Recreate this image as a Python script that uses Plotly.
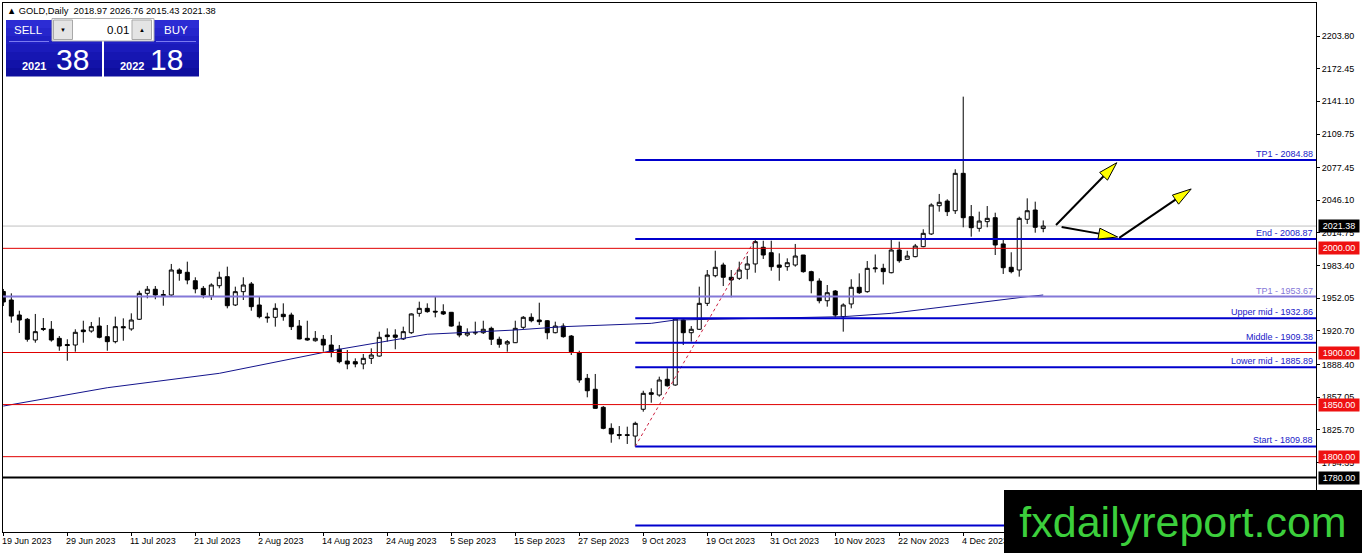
import math
import plotly.graph_objects as go

# ---------------- data ----------------
opens = [1958.6, 1950.4, 1936.0, 1931.9, 1912.0, 1922.1, 1922.3, 1913.6, 1907.7, 1907.2,
         1921.6, 1920.6, 1925.4, 1915.2, 1910.4, 1924.8, 1922.6, 1931.9, 1956.8, 1960.7,
         1955.7, 1955.2, 1979.2, 1977.0, 1968.9, 1961.6, 1954.2, 1964.1, 1972.8, 1945.6,
         1958.4, 1965.8, 1945.6, 1934.1, 1933.8, 1936.7, 1936.0, 1925.4, 1913.6, 1911.3,
         1912.7, 1907.2, 1903.1, 1891.8, 1891.2, 1889.0, 1894.4, 1896.6, 1916.8, 1916.8,
         1913.0, 1919.0, 1937.6, 1942.4, 1939.6, 1939.2, 1938.6, 1925.4, 1916.8, 1918.7,
         1919.0, 1923.2, 1912.7, 1908.2, 1909.4, 1924.2, 1933.8, 1931.2, 1930.5, 1919.0,
         1925.4, 1915.8, 1899.8, 1875.2, 1864.7, 1847.4, 1827.2, 1821.3, 1821.1, 1819.8,
         1845.5, 1861.4, 1859.2, 1874.3, 1868.8, 1931.2, 1919.0, 1922.3, 1947.2, 1973.7,
         1984.0, 1972.2, 1971.2, 1979.9, 1985.0, 2001.0, 1995.8, 1984.0, 1982.4, 1984.0,
         1993.6, 1977.6, 1968.6, 1949.7, 1959.0, 1934.4, 1946.6, 1962.6, 1958.4, 1980.4,
         1980.8, 1976.6, 1998.4, 1989.5, 1992.0, 2001.6, 2013.8, 2040.9, 2045.4, 2036.1,
         2072.0, 2030.4, 2019.2, 2025.6, 2029.4, 2004.2, 1981.8, 1979.2, 2027.9, 2036.8,
         2018.97]
highs = [1961.0, 1956.8, 1940.1, 1933.1, 1937.0, 1933.1, 1930.2, 1915.8, 1912.7, 1922.3,
         1930.5, 1929.3, 1933.8, 1926.4, 1934.4, 1932.8, 1937.6, 1959.3, 1963.8, 1963.8,
         1960.0, 1985.0, 1980.8, 1987.2, 1972.2, 1963.8, 1966.4, 1977.6, 1982.4, 1963.2,
         1972.2, 1967.7, 1953.6, 1938.2, 1947.2, 1947.2, 1938.2, 1931.2, 1930.5, 1920.6,
         1916.8, 1916.8, 1907.2, 1902.4, 1894.4, 1898.6, 1904.0, 1920.0, 1923.2, 1922.3,
         1924.8, 1937.6, 1948.8, 1947.2, 1953.6, 1946.3, 1938.9, 1929.6, 1923.2, 1929.6,
         1930.5, 1924.8, 1915.2, 1912.0, 1930.5, 1935.0, 1937.6, 1947.8, 1931.2, 1929.6,
         1928.0, 1916.8, 1901.7, 1879.4, 1879.4, 1848.6, 1832.0, 1829.4, 1828.8, 1833.6,
         1863.3, 1865.6, 1876.8, 1884.8, 1932.8, 1931.9, 1925.4, 1963.2, 1979.2, 1997.7,
         1986.2, 1979.2, 1987.2, 1992.6, 2008.87, 2007.3, 2007.3, 1995.2, 1990.4, 2004.2,
         1993.6, 1978.5, 1971.2, 1964.8, 1960.0, 1947.2, 1970.3, 1976.0, 1987.8, 1994.1,
         1985.2, 2008.0, 2006.4, 1997.7, 2004.2, 2018.3, 2043.2, 2052.2, 2047.1, 2075.9,
         2145.6, 2041.6, 2035.2, 2040.6, 2034.2, 2008.0, 1996.2, 2030.4, 2048.0, 2044.8,
         2026.76]
lows = [1944.6, 1928.6, 1918.7, 1910.4, 1909.4, 1920.6, 1910.4, 1901.7, 1892.1, 1900.8,
        1909.4, 1919.0, 1913.6, 1901.7, 1908.8, 1911.3, 1920.9, 1931.2, 1952.0, 1951.1,
        1944.9, 1954.2, 1968.9, 1965.5, 1956.8, 1952.0, 1950.4, 1961.6, 1942.4, 1944.6,
        1950.4, 1940.1, 1932.8, 1928.6, 1924.8, 1930.5, 1921.6, 1912.7, 1911.3, 1910.4,
        1900.8, 1895.4, 1889.6, 1883.9, 1885.8, 1883.9, 1889.0, 1896.0, 1910.4, 1903.1,
        1912.0, 1917.8, 1934.4, 1938.2, 1933.8, 1936.0, 1924.8, 1914.6, 1915.2, 1916.8,
        1917.8, 1907.2, 1904.6, 1900.8, 1909.1, 1922.3, 1929.0, 1926.4, 1912.7, 1918.4,
        1914.2, 1897.6, 1871.0, 1857.0, 1846.0, 1826.3, 1813.4, 1816.7, 1812.2, 1809.88,
        1843.2, 1851.8, 1857.6, 1867.2, 1868.1, 1907.2, 1910.4, 1921.6, 1944.6, 1972.2,
        1963.8, 1953.0, 1969.6, 1970.3, 1976.6, 1989.8, 1978.5, 1968.9, 1978.5, 1982.4,
        1976.6, 1956.8, 1947.2, 1944.0, 1933.8, 1920.0, 1942.4, 1956.2, 1957.4, 1976.8,
        1965.3, 1976.0, 1986.2, 1988.8, 1991.4, 2001.0, 2012.8, 2035.2, 2031.0, 2033.0,
        2020.2, 2011.2, 2016.0, 2020.2, 1993.6, 1975.4, 1976.0, 1972.8, 2023.4, 2015.0,
        2015.43]
closes = [1948.5, 1935.0, 1931.2, 1912.7, 1920.0, 1923.0, 1912.0, 1906.2, 1906.7, 1919.4,
          1920.0, 1924.8, 1914.6, 1910.4, 1924.8, 1923.8, 1931.2, 1956.8, 1960.7, 1955.2,
          1954.7, 1979.2, 1976.0, 1969.6, 1961.0, 1955.2, 1964.8, 1972.2, 1944.9, 1958.4,
          1964.8, 1944.0, 1934.4, 1933.4, 1942.4, 1934.4, 1924.8, 1913.0, 1912.0, 1913.6,
          1907.2, 1900.8, 1891.2, 1889.0, 1889.0, 1894.4, 1897.6, 1914.6, 1915.2, 1914.6,
          1920.0, 1937.0, 1942.4, 1939.2, 1938.9, 1937.0, 1925.4, 1916.8, 1919.0, 1919.2,
          1922.3, 1912.7, 1907.9, 1910.4, 1923.2, 1933.8, 1930.5, 1929.6, 1919.0, 1925.4,
          1915.2, 1900.8, 1873.6, 1863.3, 1846.4, 1827.2, 1821.8, 1820.5, 1820.5, 1832.0,
          1860.8, 1859.9, 1873.6, 1868.1, 1932.2, 1919.0, 1922.3, 1947.2, 1974.4, 1981.8,
          1972.2, 1969.6, 1979.2, 1985.0, 2006.4, 1993.6, 1982.4, 1981.8, 1986.2, 1992.6,
          1977.6, 1968.9, 1949.7, 1957.4, 1936.0, 1945.6, 1962.6, 1957.4, 1980.8, 1981.1,
          1977.6, 1998.4, 1988.1, 1992.6, 2002.2, 2014.4, 2041.6, 2044.2, 2035.2, 2072.0,
          2029.4, 2019.8, 2026.2, 2028.8, 2003.2, 1981.4, 1977.6, 2028.8, 2036.1, 2020.2,
          2021.38]
bar_index = list(range(len(opens)))

# axis ticks every 8 bars; the label at bar 128 is hidden under the watermark in the reference
date_tick_idx = [0, 8, 16, 24, 32, 40, 48, 56, 64, 72, 80, 88, 96, 104, 112, 120, 128]
date_tick_text = ["19 Jun 2023", "29 Jun 2023", "11 Jul 2023", "21 Jul 2023", "2 Aug 2023",
                  "14 Aug 2023", "24 Aug 2023", "5 Sep 2023", "15 Sep 2023", "27 Sep 2023",
                  "9 Oct 2023", "19 Oct 2023", "31 Oct 2023", "10 Nov 2023", "22 Nov 2023",
                  "4 Dec 2023", ""]

price_tick_vals = [2203.80, 2172.45, 2141.10, 2109.75, 2077.45, 2046.10, 2014.75,
                   1983.40, 1952.05, 1920.70, 1888.40, 1857.05, 1825.70, 1794.35]

ma_idx = [0, 13, 27, 42, 53, 64, 70, 81, 84, 94, 105, 111, 115, 128, 130]
ma_val = [1848.6, 1866.2, 1880.0, 1903.1, 1917.5, 1921.6, 1924.8, 1928.0, 1931.2,
          1932.8, 1934.4, 1937.6, 1941.5, 1953.6, 1955.2]

trend_idx = [79, 94]
trend_val = [1809.88, 2008.87]

fib_start_idx = 79
fib_levels = [2084.88, 2008.87, 1932.86, 1909.38, 1885.89, 1809.88, 1733.87]
fib_labels = ["TP1 - 2084.88", "End - 2008.87", "Upper mid - 1932.86", "Middle - 1909.38",
              "Lower mid - 1885.89", "Start - 1809.88", ""]

tp_level = 1953.67
tp_label = "TP1 - 1953.67"
red_levels = [2000.00, 1900.00, 1850.00, 1800.00]
black_level = 1780.00
bid_level = 2021.38

arrow_x0 = [131.6, 132.3, 139.5]
arrow_y0 = [2022.4, 2020.5, 2010.0]
arrow_x1 = [139.2, 139.3, 148.5]
arrow_y1 = [2082.2, 2010.9, 2057.0]

header_text = "▲ GOLD,Daily  2018.97 2026.76 2015.43 2021.38"
sell_big, sell_small = "2021", "38"
buy_big, buy_small = "2022", "18"
lot_text = "0.01"
watermark = "fxdailyreport.com"

# ---------------- layout geometry ----------------
W, H = 1362, 553
ML, MR, MT, MB = 3, 46, 3, 21
PW = W - ML - MR
PH = H - MT - MB
XR = [-0.04, 164.1]
YR = [1727.7, 2235.5]
FONT = "Liberation Sans"

BLUE = "#0000cd"
LAV = "#8478d8"
RED = "#e00000"


def px_x(px):
    return (px - ML) / PW


def px_y(py):
    return (H - MB - py) / PH


fig = go.Figure()

fig.add_trace(go.Candlestick(
    x=bar_index, open=opens, high=highs, low=lows, close=closes,
    increasing=dict(line=dict(color="black", width=1), fillcolor="white"),
    decreasing=dict(line=dict(color="black", width=1), fillcolor="black"),
    whiskerwidth=0, showlegend=False, hoverinfo="skip"))

fig.add_trace(go.Scatter(x=ma_idx, y=ma_val, mode="lines",
                         line=dict(color="#14148c", width=1),
                         showlegend=False, hoverinfo="skip"))
fig.add_trace(go.Scatter(x=trend_idx, y=trend_val, mode="lines",
                         line=dict(color="#cc2040", width=1, dash="dot"),
                         showlegend=False, hoverinfo="skip"))

shapes = []
annotations = []

# background bid line
shapes.append(dict(type="line", xref="paper", yref="y", x0=0, x1=1, y0=bid_level, y1=bid_level,
                   line=dict(color="#c0c0c0", width=1), layer="below"))

# full width lines
for lv in red_levels:
    shapes.append(dict(type="line", xref="paper", yref="y", x0=0, x1=1, y0=lv, y1=lv,
                       line=dict(color=RED, width=1), layer="above"))
shapes.append(dict(type="line", xref="paper", yref="y", x0=0, x1=1, y0=tp_level, y1=tp_level,
                   line=dict(color=LAV, width=2), layer="above"))
shapes.append(dict(type="line", xref="paper", yref="y", x0=0, x1=1, y0=black_level, y1=black_level,
                   line=dict(color="black", width=2), layer="above"))

# fib lines
for lv in fib_levels:
    shapes.append(dict(type="line", xref="x", yref="y", x0=fib_start_idx, x1=XR[1], y0=lv, y1=lv,
                       line=dict(color=BLUE, width=2), layer="above"))

# arrows (black line + yellow head)
sx = PW / (XR[1] - XR[0])
sy = PH / (YR[1] - YR[0])
HL, HW = 19.0, 5.5
for x0, y0, x1, y1 in zip(arrow_x0, arrow_y0, arrow_x1, arrow_y1):
    dxp = (x1 - x0) * sx
    dyp = (y1 - y0) * sy
    ln = math.hypot(dxp, dyp)
    ux, uy = dxp / ln, dyp / ln
    bx = x1 - HL * ux / sx
    by = y1 - HL * uy / sy
    nx, ny = -uy, ux
    c1x, c1y = bx + HW * nx / sx, by + HW * ny / sy
    c2x, c2y = bx - HW * nx / sx, by - HW * ny / sy
    shapes.append(dict(type="line", xref="x", yref="y", x0=x0, y0=y0, x1=bx, y1=by,
                       line=dict(color="black", width=2), layer="above"))
    shapes.append(dict(type="path", xref="x", yref="y",
                       path=f"M {x1},{y1} L {c1x},{c1y} L {c2x},{c2y} Z",
                       fillcolor="#ffff00", line=dict(color="black", width=1), layer="above"))

# line labels
for lv, lab in zip(fib_levels, fib_labels):
    if lab:
        annotations.append(dict(xref="paper", yref="y", x=1, y=lv, xanchor="right", yanchor="bottom",
                                xshift=-2, yshift=0, text=lab, showarrow=False, borderpad=0,
                                font=dict(family=FONT, size=9, color="#2020c8")))
annotations.append(dict(xref="paper", yref="y", x=1, y=tp_level, xanchor="right", yanchor="bottom",
                        xshift=-2, text=tp_label, showarrow=False, borderpad=0,
                        font=dict(family=FONT, size=9, color=LAV)))

# price tags on the axis
tags = [(bid_level, "#000000")] + [(lv, "#ee1111") for lv in red_levels] + [(black_level, "#000000")]
for lv, col in tags:
    annotations.append(dict(xref="paper", yref="y", x=px_x(1318), y=lv, xanchor="left", yanchor="middle",
                            text=f"{lv:.2f}", showarrow=False, bgcolor=col, borderpad=1, width=38,
                            font=dict(family=FONT, size=9, color="white")))

# date labels
for idx, lab in zip(date_tick_idx, date_tick_text):
    if lab:
        annotations.append(dict(xref="x", yref="paper", x=idx, y=px_y(541), xanchor="left",
                                yanchor="middle", xshift=-2, text=lab, showarrow=False, borderpad=0,
                                font=dict(family=FONT, size=9, color="black")))

# header
annotations.append(dict(xref="paper", yref="paper", x=px_x(6), y=px_y(11), xanchor="left", yanchor="middle",
                        text=header_text, showarrow=False, borderpad=0,
                        font=dict(family=FONT, size=9.3, color="black")))


def rect(x0, y0, x1, y1, fill, line_col=None, lw=0):
    shapes.append(dict(type="rect", xref="paper", yref="paper",
                       x0=px_x(x0), x1=px_x(x1), y0=px_y(y1), y1=px_y(y0),
                       fillcolor=fill, line=dict(color=line_col or fill, width=lw), layer="above"))


def txt(x, y, s, size, color, anchor="left", bold=False):
    annotations.append(dict(xref="paper", yref="paper", x=px_x(x), y=px_y(y), xanchor=anchor,
                            yanchor="middle", text=(f"<b>{s}</b>" if bold else s), showarrow=False,
                            borderpad=0, borderwidth=0,
                            font=dict(family=FONT, size=size, color=color)))


# trade panel (blue boxes with simple vertical shading)
band_cols = ["#2c2cd4", "#2626cc", "#2020c4", "#1b1bbb", "#1616b2", "#1212a8", "#0e0e9e"]
top, bot = 20, 76
step = (bot - top) / len(band_cols)
for k, c in enumerate(band_cols):
    rect(6, top + k * step, 102, top + (k + 1) * step + 0.5, c)
    rect(104, top + k * step, 199, top + (k + 1) * step + 0.5, c)
rect(52, 18.5, 154, 41, "white", "#b0b0b0", 1)
rect(53.5, 20, 72.5, 39.5, "#e4e4e4", "#a8a8a8", 1)
rect(132, 20, 151.5, 39.5, "#e4e4e4", "#a8a8a8", 1)
shapes.append(dict(type="line", xref="paper", yref="paper", x0=px_x(9), x1=px_x(49),
                   y0=px_y(41.5), y1=px_y(41.5), line=dict(color="#7a7af0", width=1), layer="above"))
shapes.append(dict(type="line", xref="paper", yref="paper", x0=px_x(156), x1=px_x(196),
                   y0=px_y(41.5), y1=px_y(41.5), line=dict(color="#7a7af0", width=1), layer="above"))
txt(28, 30, "SELL", 11.5, "white", "center")
txt(175.5, 30, "BUY", 11.5, "white", "center")
txt(128.5, 30, lot_text, 11.5, "black", "right")
txt(63, 30, "▼", 6, "black", "center")
txt(142, 30, "▲", 6, "black", "center")
txt(21.5, 66, sell_big, 11, "white", "left", bold=True)
txt(55.5, 59.5, sell_small, 30, "white", "left")
txt(119.5, 66, buy_big, 11, "white", "left", bold=True)
txt(149.5, 59.5, buy_small, 30, "white", "left")

# watermark (drawn last so it covers what lies beneath it)
annotations.append(dict(xref="paper", yref="paper", x=px_x(1004), y=px_y(490), xanchor="left", yanchor="top",
                        width=358, height=63, bgcolor="black", borderwidth=0, borderpad=0,
                        text=watermark, showarrow=False, align="center", valign="middle",
                        font=dict(family=FONT, size=43, color="#3ccf3c")))

fig.update_layout(
    width=W, height=H,
    margin=dict(l=ML, r=MR, t=MT, b=MB, pad=0),
    paper_bgcolor="white", plot_bgcolor="white",
    font=dict(family=FONT, size=9, color="black"),
    showlegend=False,
    boxgap=0.5, boxgroupgap=0,
    shapes=shapes, annotations=annotations,
    xaxis=dict(range=XR, rangeslider=dict(visible=False), showgrid=False, zeroline=False,
               showline=True, linecolor="black", linewidth=1, mirror=True,
               tickmode="array", tickvals=date_tick_idx, ticks="outside", ticklen=3,
               tickcolor="black", showticklabels=False, fixedrange=True),
    yaxis=dict(range=YR, side="right", showgrid=False, zeroline=False,
               showline=True, linecolor="black", linewidth=1, mirror=True,
               tickmode="array", tickvals=price_tick_vals,
               ticktext=[f"{v:.2f}" for v in price_tick_vals],
               ticks="outside", ticklen=3, tickcolor="black",
               tickfont=dict(family=FONT, size=9, color="black"), fixedrange=True),
)

fig.write_html("out.html", config={"displayModeBar": False},
               post_script="document.body.style.margin='0';document.body.style.overflow='hidden';")
